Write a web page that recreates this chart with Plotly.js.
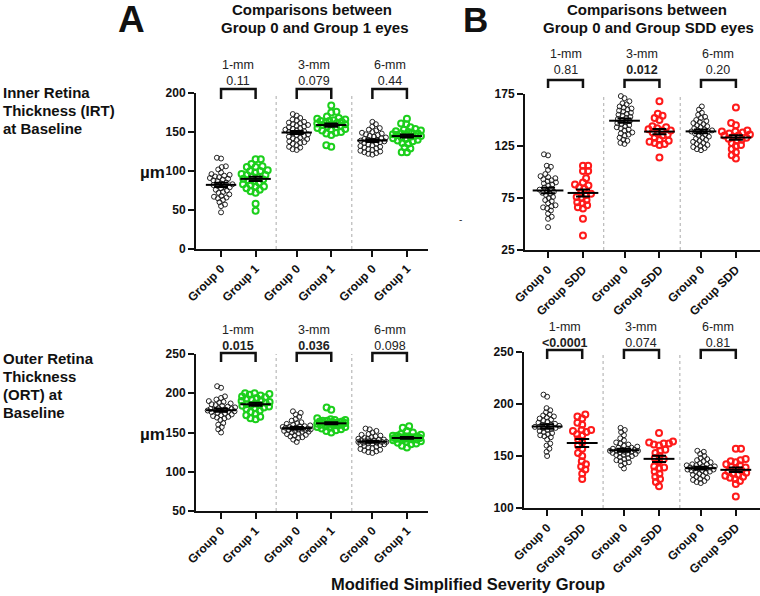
<!DOCTYPE html>
<html>
<head>
<meta charset="utf-8">
<script src="https://cdn.plot.ly/plotly-3.0.1.min.js"></script>
<style>html,body{margin:0;padding:0;background:#fff;}#chart{width:760px;height:596px;}</style>
</head>
<body>
<div id="chart"></div>
<script>
// ---------- data ----------
const sizes = ['1-mm', '3-mm', '6-mm'];
const tickLabelsA = ['Group 0', 'Group 1', 'Group 0', 'Group 1', 'Group 0', 'Group 1'];
const tickLabelsB = ['Group 0', 'Group SDD', 'Group 0', 'Group SDD', 'Group 0', 'Group SDD'];

// Inner retina thickness (IRT), µm
const irtG0_1 = [117,116,106,105,102,98,96,95,94,93,92,91,90,89,88,87,85,84,83,82,81,80,79,78,76,75,73,72,70,68,67,66,65,63,60,57,55,47];
const irtG0_3 = [173,171,168,166,165,163,162,161,160,159,158,157,156,155,154,153,152,151,150,149,148,147,146,145,144,143,142,141,140,138,137,136,135,133,131,130,128,127];
const irtG0_6 = [163,160,157,155,153,152,150,149,148,147,146,145,144,143,142,141,140,140,139,139,138,137,136,135,134,133,132,131,130,129,128,127,126,125,124,123,122,121];
const irtG1_1 = [115,115,109,106,105,105,101,100,100,98,96,95,95,93,92,90,89,88,87,85,83,82,80,80,78,76,74,72,58,49];
const irtG1_3 = [184,176,175,170,168,167,166,165,164,164,163,162,162,161,160,160,159,158,157,156,155,154,153,152,150,149,148,146,133,131];
const irtG1_6 = [167,161,160,156,154,153,152,151,150,149,148,148,147,147,146,145,145,144,143,142,141,140,139,138,136,135,130,129,124,124];
const irtSDD_1 = [106,106,101,101,94,90,88,87,85,84,80,79,78,76,75,73,71,70,68,66,65,55,39];
const irtSDD_3 = [168,156,154,152,150,144,143,142,141,140,140,138,137,136,135,133,131,130,129,128,127,126,114];
const irtSDD_6 = [162,147,145,140,139,139,138,137,136,135,135,134,133,132,131,130,128,126,125,122,119,116,113];

// Outer retina thickness (ORT), µm
const ortG0_1 = [209,207,196,194,192,190,189,188,187,186,185,184,183,182,181,180,180,179,179,178,178,177,177,176,175,174,173,172,171,170,169,168,166,162,160,157,154,150];
const ortG0_3 = [177,175,173,170,167,165,163,162,161,160,159,158,158,157,157,156,156,155,155,155,154,154,153,153,152,152,151,151,150,149,148,147,146,145,144,143,141,138];
const ortG0_6 = [155,154,152,150,148,147,146,145,144,143,142,142,141,141,140,140,139,139,138,138,138,137,137,136,136,135,135,134,133,132,131,130,129,128,127,126,125,124];
const ortG1_1 = [200,200,199,198,197,196,195,194,193,192,191,190,189,188,187,186,185,185,184,183,182,181,180,178,176,174,172,170,168,167];
const ortG1_3 = [182,179,168,167,166,166,165,165,164,164,163,163,162,162,162,161,161,160,160,159,159,158,157,157,156,155,154,153,152,150];
const ortG1_6 = [158,156,152,150,148,147,146,146,145,145,144,144,144,143,143,143,142,142,142,141,141,140,140,139,138,137,136,135,133,131];
const ortSDD_1 = [190,188,186,182,180,175,175,174,173,171,170,166,163,160,157,153,150,145,142,140,137,133,128];
const ortSDD_3 = [172,164,163,162,162,161,160,156,155,153,150,148,147,145,140,139,138,135,133,130,128,125,121];
const ortSDD_6 = [157,157,147,146,145,144,142,141,140,139,138,136,135,134,133,132,131,130,129,128,126,123,111];

const pA_IRT = ['0.11', '0.079', '0.44'];
const pB_IRT = ['0.81', '<b>0.012</b>', '0.20'];
const pA_ORT = ['<b>0.015</b>', '<b>0.036</b>', '0.098'];
const pB_ORT = ['<b>&lt;0.0001</b>', '0.074', '0.81'];

// ---------- layout helpers ----------
const W = 760, H = 596;
const px = x => x / W;
const py = y => 1 - y / H;
const pos = [0, 1, 2.19, 3.19, 4.38, 5.38];
const seps = [1.595, 3.785];
const FONT = 'Liberation Sans, Arial, sans-serif';
const GREEN = '#1ccf1c', RED = '#ff1a1a';

const panels = [
  {ax: '', left: 196, right: 428, top: 93, bottom: 249, yr: [0, 200], yt: [0,50,100,150,200], xr: [-0.725, 5.99],
   g0: [irtG0_1, irtG0_3, irtG0_6], g1: [irtG1_1, irtG1_3, irtG1_6], col: GREEN, ticks: tickLabelsA, p: pA_IRT,
   lab: [73, 89, 99]},
  {ax: '2', left: 525, right: 760, top: 94, bottom: 250, yr: [25, 175], yt: [25,75,125,175], xr: [-0.66, 6.07],
   g0: [irtG0_1, irtG0_3, irtG0_6], g1: [irtSDD_1, irtSDD_3, irtSDD_6], col: RED, ticks: tickLabelsB, p: pB_IRT,
   lab: [62, 80, 88]},
  {ax: '3', left: 196, right: 428, top: 354, bottom: 511, yr: [50, 250], yt: [50,100,150,200,250], xr: [-0.725, 5.99],
   g0: [ortG0_1, ortG0_3, ortG0_6], g1: [ortG1_1, ortG1_3, ortG1_6], col: GREEN, ticks: tickLabelsA, p: pA_ORT,
   lab: [338, 353, 362]},
  {ax: '4', left: 524, right: 760, top: 352, bottom: 508, yr: [100, 250], yt: [100,150,200,250], xr: [-0.66, 6.07],
   g0: [ortG0_1, ortG0_3, ortG0_6], g1: [ortSDD_1, ortSDD_3, ortSDD_6], col: RED, ticks: tickLabelsB, p: pB_ORT,
   lab: [335.5, 350, 359]}
];

// deterministic beeswarm layout (pixel space), limited half-width
function swarm(vals, center, pxX, pxY, d, maxW) {
  const idx = vals.map((v, i) => i).sort((a, b) => vals[a] - vals[b]);
  const placed = [];
  const xs = new Array(vals.length);
  let flip = 1;
  for (const i of idx) {
    const y = vals[i] * pxY;
    const near = placed.filter(p => Math.abs(p.y - y) < d);
    let cands = [0];
    near.forEach(p => {
      const dx = Math.sqrt(Math.max(0, d * d - (p.y - y) * (p.y - y)));
      cands.push(p.x + dx, p.x - dx);
    });
    cands = cands.filter(c => Math.abs(c) <= maxW);
    cands.sort((a, b) => (Math.abs(a) - Math.abs(b)) || (flip * (b - a)));
    flip = -flip;
    let chosen = null;
    for (const c of cands) {
      if (near.every(p => (p.x - c) ** 2 + (p.y - y) ** 2 >= d * d - 1e-6)) { chosen = c; break; }
    }
    if (chosen === null) {
      let best = -1;
      for (let c = -maxW; c <= maxW; c += 0.5) {
        const md = Math.min(...near.map(p => (p.x - c) ** 2 + (p.y - y) ** 2));
        if (md > best) { best = md; chosen = c; }
      }
    }
    placed.push({x: chosen, y});
    xs[i] = center + chosen / pxX;
  }
  return xs;
}
const mean = a => a.reduce((s, v) => s + v, 0) / a.length;
const sem = a => { const m = mean(a); const v = a.reduce((s, x) => s + (x - m) ** 2, 0) / (a.length - 1); return Math.sqrt(v / a.length); };

const traces = [];
const layout = {
  width: W, height: H, margin: {l: 0, r: 0, t: 0, b: 0},
  paper_bgcolor: '#fff', plot_bgcolor: '#fff', showlegend: false,
  font: {family: FONT, color: '#111'},
  shapes: [], annotations: []
};

panels.forEach(P => {
  const xa = 'x' + P.ax, ya = 'y' + P.ax;
  const pxX = (P.right - P.left) / (P.xr[1] - P.xr[0]);
  const pxY = (P.bottom - P.top) / (P.yr[1] - P.yr[0]);
  layout['xaxis' + P.ax] = {
    domain: [px(P.left), px(P.right)], range: P.xr, anchor: ya, fixedrange: true,
    showgrid: false, zeroline: false, showline: true, linecolor: '#111', linewidth: 2,
    ticks: 'outside', ticklen: 6, tickwidth: 2, tickcolor: '#111',
    tickmode: 'array', tickvals: pos, ticktext: P.ticks, tickangle: -45,
    tickfont: {family: FONT, size: 12, color: '#111', weight: 'bold'}
  };
  layout['yaxis' + P.ax] = {
    domain: [py(P.bottom), py(P.top)], range: P.yr, anchor: xa, fixedrange: true,
    showgrid: false, zeroline: false, showline: true, linecolor: '#111', linewidth: 2,
    ticks: 'outside', ticklen: 6, tickwidth: 2, tickcolor: '#111',
    tickmode: 'array', tickvals: P.yt,
    tickfont: {family: FONT, size: 12, color: '#111', weight: 'bold'}
  };
  seps.forEach(s => layout.shapes.push({type: 'line', xref: xa, yref: ya + ' domain', x0: s, x1: s, y0: 0, y1: 1,
    line: {color: '#aaa', width: 1, dash: 'dot'}}));
  for (let k = 0; k < 3; k++) {
    const groups = [{v: P.g0[k], c: '#222', sz: 5, lw: 1, d: 4.2, mw: 14}, {v: P.g1[k], c: P.col, sz: 6, lw: 2, d: 5.2, mw: 14}];
    groups.forEach((g, j) => {
      const xc = pos[2 * k + j];
      traces.push({type: 'scatter', mode: 'markers', xaxis: xa, yaxis: ya, x: swarm(g.v, xc, pxX, pxY, g.d, g.mw), y: g.v,
        marker: {symbol: 'circle-open', size: g.sz, color: g.c, line: {width: g.lw, color: g.c}}, hoverinfo: 'y', cliponaxis: false});
    });
    groups.forEach((g, j) => {
      const xc = pos[2 * k + j];
      const m = mean(g.v), e = sem(g.v);
      traces.push({type: 'scatter', mode: 'lines', xaxis: xa, yaxis: ya, x: [xc - 0.44, xc + 0.44], y: [m, m],
        line: {color: '#000', width: 2}, hoverinfo: 'skip'});
      traces.push({type: 'scatter', mode: 'markers', xaxis: xa, yaxis: ya, x: [xc], y: [m],
        marker: {size: 1, color: 'rgba(0,0,0,0)'},
        error_y: {type: 'data', array: [e], visible: true, color: '#000', thickness: 2, width: 7}, hoverinfo: 'skip'});
    });
    const x0 = pos[2 * k], x1 = pos[2 * k + 1];
    const yt = py(P.lab[1]), yb = py(P.lab[2]);
    layout.shapes.push({type: 'path', xref: xa, yref: 'paper',
      path: `M ${x0},${yb} L ${x0},${yt} L ${x1},${yt} L ${x1},${yb}`, line: {color: '#111', width: 2.5}});
    layout.annotations.push({xref: xa, yref: 'paper', x: (x0 + x1) / 2, y: py(P.lab[0]),
      text: sizes[k] + '<br>' + P.p[k], showarrow: false,
      xanchor: 'center', yanchor: 'middle', font: {family: FONT, size: 12.5, color: '#222'}});
  }
});

function txt(x, y, text, size, opts) {
  layout.annotations.push(Object.assign({xref: 'paper', yref: 'paper', x: px(x), y: py(y), text, showarrow: false,
    xanchor: 'center', yanchor: 'middle', font: {family: FONT, size, color: '#111', weight: 'bold'}}, opts || {}));
}
txt(131, 20, 'A', 37);
txt(475, 19, 'B', 35);
txt(312, 9, 'Comparisons between', 15);
txt(315, 27, 'Group 0 and Group 1 eyes', 15);
txt(647, 9, 'Comparisons between', 15);
txt(648, 27, 'Group 0 and Group SDD eyes', 15);
['Inner Retina', 'Thickness (IRT)', 'at Baseline'].forEach((s, i) => txt(1, 92 + 18.2 * i, s, 15, {xanchor: 'left'}));
['Outer Retina', 'Thickness', '(ORT) at', 'Baseline'].forEach((s, i) => txt(1, 358 + 18.3 * i, s, 15, {xanchor: 'left'}));
txt(152, 172, 'µm', 17);
txt(152, 434, 'µm', 17);
txt(460, 219, '-', 10, {font: {family: FONT, size: 10, color: '#333'}});
txt(468, 584, 'Modified Simplified Severity Group', 16.5);

Plotly.newPlot('chart', traces, layout, {staticPlot: true, displayModeBar: false});
</script>
</body>
</html>
